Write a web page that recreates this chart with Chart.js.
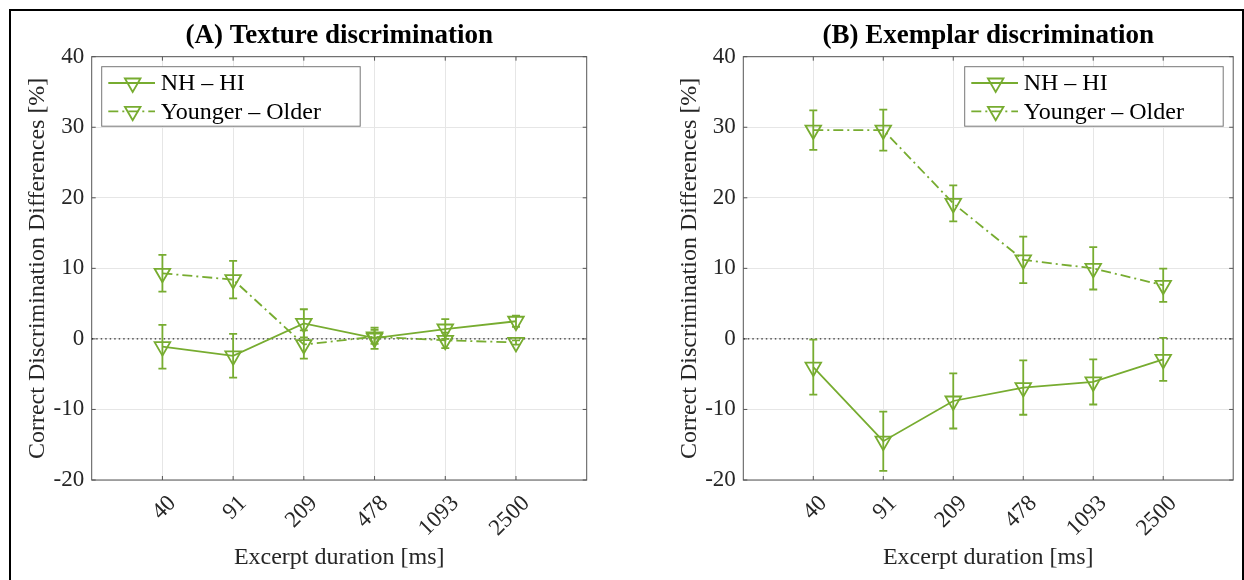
<!DOCTYPE html>
<html>
<head>
<meta charset="utf-8">
<script src="https://cdn.jsdelivr.net/npm/chart.js@4.4.1/dist/chart.umd.min.js"></script>
<style>
html, body { margin: 0; padding: 0; background: #fff; overflow: hidden; }
#wrap { position: relative; width: 1244px; height: 580px; }
#frame { position: absolute; left: 9px; top: 9px; width: 1231px; height: 600px; border: 2px solid #000; }
canvas { position: absolute; top: 0; }
</style>
</head>
<body>
<div id="wrap">
    <div id="frame"></div>
    <canvas id="canvasTextura" width="622" height="580" style="left:0"></canvas>
    <canvas id="canvasExemplar" width="622" height="580" style="left:622px"></canvas>
</div>
<script>
var xLabels = ['40', '91', '209', '478', '1093', '2500'];

// (A) Texture discrimination
var texturaNhHi = [-1.1, -2.4, 2.2, 0.1, 1.4, 2.5];
var texturaNhHiErro = [3.1, 3.1, 2.0, 1.5, 1.4, 0.8];
var texturaJovemIdoso = [9.3, 8.4, -0.8, 0.3, -0.2, -0.5];
var texturaJovemIdosoErro = [2.6, 2.65, 2.0, 1.0, 1.1, 0.3];

// (B) Exemplar discrimination
var exemplarNhHi = [-4.0, -14.5, -8.8, -6.9, -6.1, -2.9];
var exemplarNhHiErro = [3.9, 4.2, 3.9, 3.85, 3.2, 3.05];
var exemplarJovemIdoso = [29.6, 29.6, 19.2, 11.2, 10.0, 7.6];
var exemplarJovemIdosoErro = [2.8, 2.9, 2.55, 3.3, 3.0, 2.35];

var verde = '#77AC30';
var fonte = "'Liberation Serif', 'Times New Roman', serif";
var corTexto = '#262626';
var espessura = 1.8;

function toPontos(valores) {
    return valores.map(function (v, i) { return { x: i, y: v }; });
}

// barras de erro verticais com "chapeu"
var barrasErro = {
    id: 'barrasErro',
    afterDatasetsDraw: function (chart) {
        var ctx = chart.ctx;
        var yScale = chart.scales.y;
        chart.data.datasets.forEach(function (ds, i) {
            if (!ds.erros) return;
            var meta = chart.getDatasetMeta(i);
            ctx.save();
            ctx.strokeStyle = ds.borderColor;
            ctx.lineWidth = espessura;
            meta.data.forEach(function (pt, j) {
                var v = ds.data[j].y;
                var e = ds.erros[j];
                var yTop = yScale.getPixelForValue(v + e);
                var yBot = yScale.getPixelForValue(v - e);
                ctx.beginPath();
                ctx.moveTo(pt.x, yTop);
                ctx.lineTo(pt.x, yBot);
                ctx.moveTo(pt.x - 4, yTop);
                ctx.lineTo(pt.x + 4, yTop);
                ctx.moveTo(pt.x - 4, yBot);
                ctx.lineTo(pt.x + 4, yBot);
                ctx.stroke();
            });
            ctx.restore();
        });
    }
};

// caixa em volta do grafico e ticks para dentro (estilo matlab)
var moldura = {
    id: 'moldura',
    beforeDatasetsDraw: function (chart) {
        var a = chart.chartArea;
        var ctx = chart.ctx;
        ctx.save();
        ctx.strokeStyle = '#555';
        ctx.lineWidth = 1;
        ctx.strokeRect(a.left, a.top, a.right - a.left, a.bottom - a.top);
        ctx.beginPath();
        chart.scales.x.ticks.forEach(function (t) {
            var px = chart.scales.x.getPixelForValue(t.value);
            ctx.moveTo(px, a.bottom); ctx.lineTo(px, a.bottom - 4);
            ctx.moveTo(px, a.top); ctx.lineTo(px, a.top + 4);
        });
        chart.scales.y.ticks.forEach(function (t) {
            var py = chart.scales.y.getPixelForValue(t.value);
            ctx.moveTo(a.left, py); ctx.lineTo(a.left + 4, py);
            ctx.moveTo(a.right, py); ctx.lineTo(a.right - 4, py);
        });
        ctx.stroke();
        ctx.restore();
    }
};

// legenda dentro da area do grafico, com linha + marcador
var legendaMatlab = {
    id: 'legendaMatlab',
    afterDraw: function (chart, args, opts) {
        var a = chart.chartArea;
        var ctx = chart.ctx;
        var w = 258.5, h = 59.5;
        var x0 = opts.lado === 'direita' ? a.right - 10 - w : a.left + 10;
        var y0 = a.top + 10;
        ctx.save();
        ctx.fillStyle = '#fff';
        ctx.fillRect(x0, y0, w, h);
        ctx.strokeStyle = '#777';
        ctx.lineWidth = 1;
        ctx.strokeRect(x0, y0, w, h);
        var series = chart.data.datasets.filter(function (d) { return d.label; });
        series.forEach(function (ds, i) {
            var y = y0 + 16.3 + i * 28.3;
            ctx.strokeStyle = ds.borderColor;
            ctx.lineWidth = ds.borderWidth;
            ctx.setLineDash(ds.borderDash || []);
            ctx.beginPath();
            ctx.moveTo(x0 + 6.6, y);
            ctx.lineTo(x0 + 53.3, y);
            ctx.stroke();
            ctx.setLineDash([]);
            ctx.fillStyle = 'rgba(0,0,0,0)';
            ctx.lineWidth = espessura;
            Chart.helpers.drawPoint(ctx, { pointStyle: 'triangle', rotation: 180, radius: 9, borderWidth: espessura }, x0 + 31, y);
            ctx.fillStyle = '#000';
            ctx.font = '24px ' + fonte;
            ctx.textBaseline = 'middle';
            ctx.textAlign = 'left';
            ctx.fillText(ds.label, x0 + 59, y + 1);
        });
        ctx.restore();
    }
};

function serie(label, valores, erros, tracejado) {
    return {
        label: label,
        data: toPontos(valores),
        erros: erros,
        borderColor: verde,
        borderWidth: espessura,
        borderDash: tracejado,
        pointStyle: 'triangle',
        rotation: 180,
        pointRadius: 9,
        pointHoverRadius: 9,
        pointBorderWidth: espessura,
        pointBorderColor: verde,
        pointBackgroundColor: 'rgba(0,0,0,0)',
        tension: 0
    };
}

function criarGrafico(canvasId, titulo, nhHi, nhHiErro, jovemIdoso, jovemIdosoErro, padEsq, padDir, ladoLegenda) {
    var ctx = document.getElementById(canvasId);
    return new Chart(ctx, {
        type: 'line',
        data: {
            datasets: [
                serie('NH \u2013 HI', nhHi, nhHiErro, []),
                serie('Younger \u2013 Older', jovemIdoso, jovemIdosoErro, [10, 4, 2, 4]),
                {
                    data: [{ x: -1, y: 0 }, { x: 6, y: 0 }],
                    borderColor: '#000',
                    borderWidth: 1,
                    borderDash: [1.5, 3],
                    pointRadius: 0
                }
            ]
        },
        options: {
            responsive: false,
            animation: false,
            devicePixelRatio: 1,
            events: [],
            layout: { padding: { left: padEsq, right: padDir, top: 0, bottom: 0 } },
            plugins: {
                legend: { display: false },
                tooltip: { enabled: false },
                title: {
                    display: true,
                    text: titulo,
                    fullSize: false,
                    color: '#000',
                    font: { family: fonte, size: 27, weight: 'bold' },
                    padding: { top: 20.3, bottom: 4.0 }
                },
                legendaMatlab: { lado: ladoLegenda }
            },
            scales: {
                x: {
                    type: 'linear',
                    min: -1,
                    max: 6,
                    afterBuildTicks: function (s) {
                        s.ticks = xLabels.map(function (_, i) { return { value: i }; });
                    },
                    afterFit: function (s) { s.height = 100; },
                    grid: { color: '#e6e6e6', drawTicks: false },
                    border: { display: false },
                    ticks: {
                        autoSkip: false,
                        minRotation: 45,
                        maxRotation: 45,
                        padding: 10,
                        labelOffset: 10,
                        color: corTexto,
                        font: { family: fonte, size: 23 },
                        callback: function (v) { return xLabels[v]; }
                    },
                    title: {
                        display: true,
                        text: 'Excerpt duration [ms]',
                        color: corTexto,
                        font: { family: fonte, size: 24 },
                        padding: { top: 0, bottom: 8 }
                    }
                },
                y: {
                    min: -20,
                    max: 40,
                    afterFit: function (s) { s.width = 91.7; },
                    grid: { color: '#e6e6e6', drawTicks: false },
                    border: { display: false },
                    ticks: {
                        stepSize: 10,
                        padding: 7.5,
                        color: corTexto,
                        font: { family: fonte, size: 23 }
                    },
                    title: {
                        display: true,
                        text: 'Correct Discrimination Differences [%]',
                        color: corTexto,
                        font: { family: fonte, size: 24 },
                        padding: { top: 23.5, bottom: 0 }
                    }
                }
            }
        },
        plugins: [moldura, barrasErro, legendaMatlab]
    });
}

criarGrafico('canvasTextura', '(A) Texture discrimination',
    texturaNhHi, texturaNhHiErro, texturaJovemIdoso, texturaJovemIdosoErro, 0, 35.3, 'esquerda');
criarGrafico('canvasExemplar', '(B) Exemplar discrimination',
    exemplarNhHi, exemplarNhHiErro, exemplarJovemIdoso, exemplarJovemIdosoErro, 29.6, 6.3, 'direita');
</script>
</body>
</html>
